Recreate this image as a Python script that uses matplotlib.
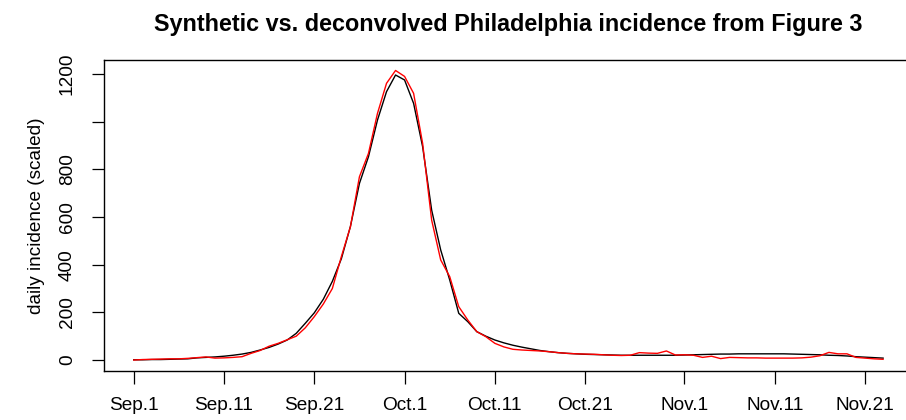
import numpy as np
import matplotlib
matplotlib.use("Agg")
import matplotlib.pyplot as plt

plt.rcParams['font.family'] = ['Liberation Sans', 'DejaVu Sans']

# Daily series, one value per day starting Sep. 1
start_date = np.datetime64('1918-09-01')

synthetic = [
    1, 1, 2, 2, 3, 4, 5, 9, 11, 13,
    16, 20, 25, 32, 42, 53, 67, 84, 112, 154,
    198, 255, 330, 425, 560, 741, 853, 1007, 1126, 1196,
    1175, 1077, 895, 629, 462, 336, 196, 161, 119, 100,
    84, 72, 62, 54, 47, 40, 35, 31, 28, 26,
    24, 23, 22, 21, 20, 20, 20, 20, 20, 20,
    20, 21, 22, 23, 24, 25, 25, 26, 26, 26,
    26, 26, 26, 25, 24, 23, 22, 20, 19, 17,
    14, 12, 10, 8,
]

deconvolved = [
    0, 2, 3, 4, 5, 5, 7, 10, 13, 8,
    9, 11, 14, 28, 40, 58, 70, 85, 100, 135,
    182, 235, 300, 434, 559, 769, 867, 1035, 1161, 1215,
    1190, 1119, 909, 587, 420, 350, 224, 168, 119, 98,
    70, 55, 45, 42, 40, 38, 35, 31, 28, 26,
    25, 24, 22, 20, 19, 20, 31, 29, 28, 38,
    21, 22, 20, 11, 16, 6, 11, 10, 9, 9,
    8, 8, 8, 8, 9, 12, 18, 32, 26, 26,
    11, 8, 5, 3,
]

tick_dates = ['1918-09-01', '1918-09-11', '1918-09-21', '1918-10-01', '1918-10-11',
              '1918-10-21', '1918-11-01', '1918-11-11', '1918-11-21']
tick_labels = ['Sep.1', 'Sep.11', 'Sep.21', 'Oct.1', 'Oct.11',
               'Oct.21', 'Nov.1', 'Nov.11', 'Nov.21']

y_ticks = [0, 200, 400, 600, 800, 1000, 1200]
y_tick_labels = ['0', '200', '400', '600', '800', '', '1200']

days = np.arange(len(synthetic))
tick_pos = [(np.datetime64(d) - start_date).astype(int) for d in tick_dates]

fig = plt.figure(figsize=(9.06, 4.20), dpi=100)
ax = fig.add_axes([0.1145, 0.1167, 0.8933, 0.7405])

ax.plot(days, synthetic, color='black', lw=1.0)
ax.plot(days, deconvolved, color='red', lw=1.0)

n = days[-1] - days[0]
ax.set_xlim(days[0] - 0.04 * n, days[-1] + 0.04 * n)
ax.set_ylim(-46, 1259)

ax.set_xticks(tick_pos)
ax.set_xticklabels(tick_labels)
ax.set_yticks(y_ticks)
ax.set_yticklabels(y_tick_labels, rotation=90, va='center')

ax.tick_params(axis='both', direction='out', length=9, width=0.9, color='black',
               labelsize=13.7)
ax.tick_params(axis='x', pad=10)
ax.tick_params(axis='y', pad=11)

for sp in ax.spines.values():
    sp.set_linewidth(1.0)
    sp.set_color('black')

ax.set_ylabel('daily incidence (scaled)', fontsize=13.7, labelpad=10)

fig.text(0.5607, 0.926, 'Synthetic vs. deconvolved Philadelphia incidence from Figure 3',
         ha='center', va='baseline', fontsize=16.8, fontweight='bold')

fig.savefig('out.png', dpi=100)
